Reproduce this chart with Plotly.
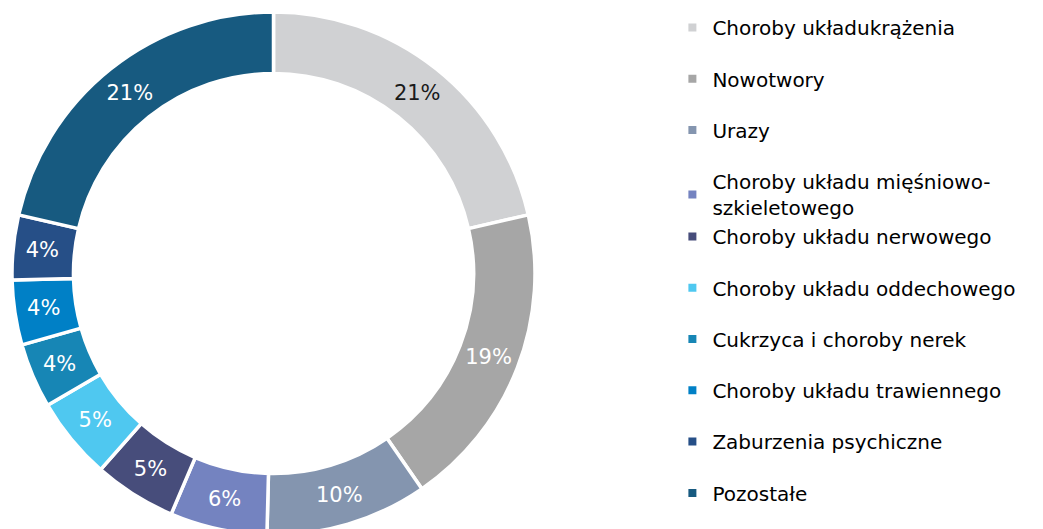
import plotly.graph_objects as go

categories = [
    "Choroby układukrążenia",
    "Nowotwory",
    "Urazy",
    "Choroby układu mięśniowo-<br>szkieletowego",
    "Choroby układu nerwowego",
    "Choroby układu oddechowego",
    "Cukrzyca i choroby nerek",
    "Choroby układu trawiennego",
    "Zaburzenia psychiczne",
    "Pozostałe",
]
values = [21.4, 19.0, 10.0, 6.0, 5.1, 5.1, 4.0, 4.0, 4.0, 21.4]
colors = ["#D0D1D3", "#A6A6A6", "#8495AF", "#7483C0", "#474D7B",
          "#4FC8F0", "#1786B5", "#0080C6", "#264F87", "#175A80"]
text_colors = ["#1a1a1a"] + ["#ffffff"] * 9
legend_groups = ["g1", "g2", "g3", "g4", "g4", "g6", "g7", "g8", "g9", "g10"]

FONT = "DejaVu Sans, Verdana, sans-serif"

fig = go.Figure()
fig.add_trace(go.Pie(
    labels=categories,
    values=values,
    sort=False,
    direction="clockwise",
    rotation=0,
    hole=0.765,
    marker=dict(colors=colors, line=dict(color="white", width=3.5)),
    texttemplate="%{percent:.0%}",
    textposition="inside",
    insidetextorientation="horizontal",
    insidetextfont=dict(family=FONT, size=21, color=text_colors),
    showlegend=False,
    domain=dict(x=[4 / 1043, 527 / 1043], y=[0, 1]),
))

for name, col, grp in zip(categories, colors, legend_groups):
    fig.add_trace(go.Scatter(
        x=[None], y=[None], mode="markers", name=name,
        marker=dict(symbol="square", size=8, color=col),
        legendgroup=grp, showlegend=True,
    ))

fig.update_layout(
    width=1043, height=529,
    margin=dict(l=0, r=0, t=4, b=2, autoexpand=False),
    paper_bgcolor="white", plot_bgcolor="white",
    xaxis=dict(visible=False), yaxis=dict(visible=False),
    legend=dict(
        x=0.637, xanchor="left", y=1.005, yanchor="top", yref="container",
        font=dict(family=FONT, size=20, color="#000000"),
        tracegroupgap=22.3, itemclick=False, maxheight=1.0,
    ),
)

fig.write_html("out.html")
